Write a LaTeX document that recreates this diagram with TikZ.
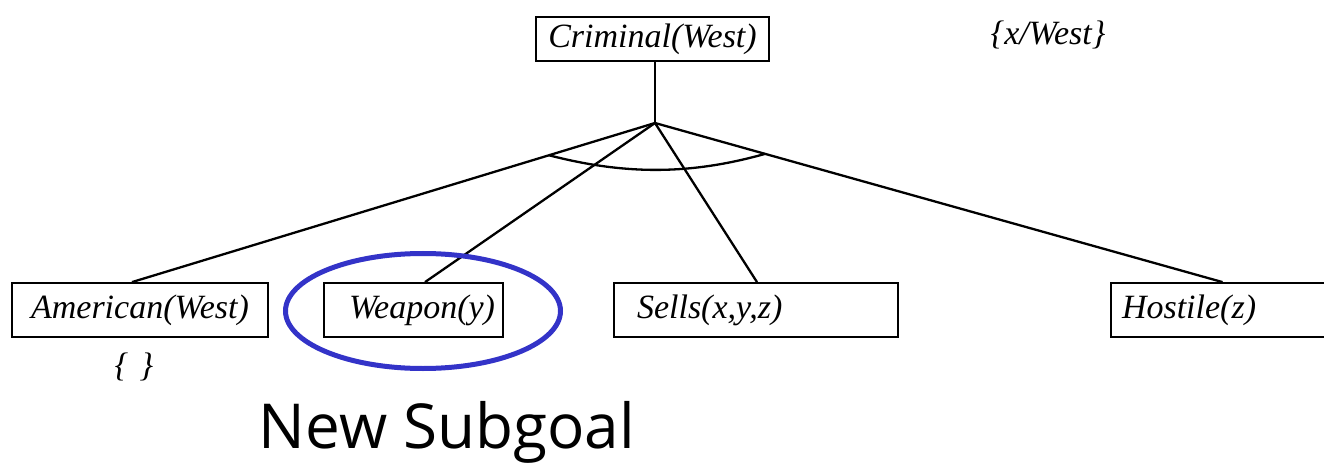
\documentclass[tikz,border=0pt]{standalone}
\usepackage{fontspec}
\setmainfont{Liberation Serif}
\newfontfamily\notefont{Open Sans}
\usetikzlibrary{shapes.geometric,calc}
\definecolor{subgoalblue}{RGB}{51,51,200}
\begin{document}
\begin{tikzpicture}[x=1pt,y=-1pt,
  goalbox/.style={draw, line width=1.8pt, inner ysep=0pt, minimum height=54pt,
    align=left, font=\fontsize{34}{38}\selectfont\itshape},
  binding/.style={font=\fontsize{34}{38}\selectfont\itshape, inner sep=0pt},
  link/.style={line width=2.3pt}]
\useasboundingbox (0,0) rectangle (1324,470);

% root goal and its substitution
\node[goalbox, minimum height=44pt, inner xsep=0pt, text width=233pt, align=center] (crim) at (652.5,39) {Criminal(West)};
\node[binding] (subst) at (1048,35) {\{x/West\}};
\coordinate (fork) at (655,123);

% conjunct subgoals
\node[goalbox, inner xsep=0pt, text width=256pt, align=center] (am) at (140,310) {American(West)};
\node[goalbox, inner xsep=25pt, text width=129pt] (weap) at (413.5,310) {Weapon(y)};
\node[goalbox, inner xsep=23pt, text width=238pt] (sells) at (756,310) {Sells(x,y,z)};
\node[goalbox, inner xsep=11pt, text width=201pt] (host) at (1222.5,310) {Hostile(z)};
\node[binding] (amsub) at (134,367) {\{\,\,\}};

% connectors
\coordinate (amtop) at ([xshift=-8pt]am.north);
\coordinate (weaptop) at ([xshift=11.5pt]weap.north);
\coordinate (sellstop) at ([xshift=1pt]sells.north);
\coordinate (hosttop) at (host.north);
\draw[link] (crim.south -| fork) -- (fork);
\draw[link] (fork) -- (amtop);
\draw[link] (fork) -- (weaptop);
\draw[link] (fork) -- (sellstop);
\draw[link] (fork) -- (hosttop);

% AND arc across the branches
\draw[link] ($(fork)!0.2027!(amtop)$) .. controls (625,175) and (690,175) .. ($(fork)!0.194!(hosttop)$);

% highlighted new subgoal
\node[draw=subgoalblue, line width=5pt, ellipse, minimum width=275pt, minimum height=115pt, inner sep=0pt] (ring) at (423,311) {};
\node[font=\notefont\fontsize{62}{68}\selectfont, inner sep=0pt] (note) at (447,432) {New Subgoal};
\end{tikzpicture}
\end{document}
